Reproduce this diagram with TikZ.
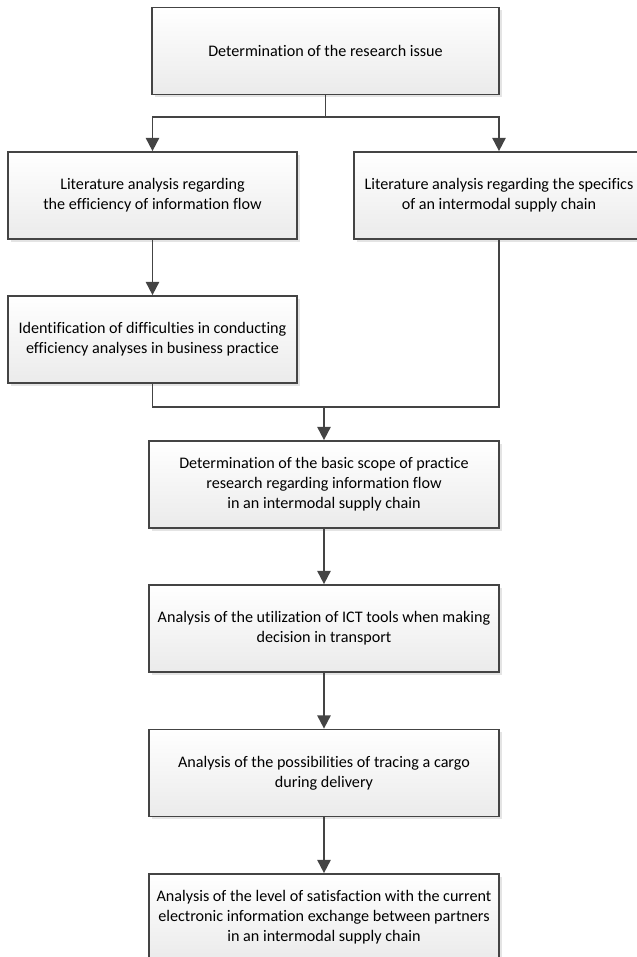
\documentclass[tikz,border=0pt]{standalone}
\usepackage{fontspec}
\setmainfont{Carlito}[Ligatures={NoCommon}]
\usetikzlibrary{arrows.meta,shadows}
\definecolor{linegray}{HTML}{444444}
\tikzset{
  stepbox/.style={draw=linegray, line width=1.3pt, top color=white, bottom color=black!8,
    drop shadow={shadow xshift=2pt, shadow yshift=-2pt, fill=black!15, opacity=0.7},
    minimum height=65.25pt, align=center, font=\fontsize{12.1}{15}\selectfont, inner sep=2pt},
  flowline/.style={draw=linegray, line width=1.4pt},
  flowarrow/.style={flowline, -{Triangle[length=10pt,width=10pt]}}
}

\begin{document}
\begin{tikzpicture}[x=0.75pt, y=-0.75pt]
		%%%%% START %%%%%
		\useasboundingbox (0, 0) rectangle (636, 957);
		
		\node[stepbox, minimum width=260pt] (issue) at (325.5, 51) {Determination of the research issue};
		
		\node[stepbox, minimum width=216.75pt] (litflow) at (152.5, 195.5) {Literature analysis regarding\\the efficiency of information flow};
		\node[stepbox, minimum width=217.5pt] (litchain) at (499, 195.5) {Literature analysis regarding the specifics\\of an intermodal supply chain};
		\node[stepbox, minimum width=216.75pt] (difficult) at (152.5, 339.5) {Identification of difficulties in conducting\\efficiency analyses in business practice};
		
		\node[stepbox, minimum width=262.5pt] (scope) at (324, 484.5) {Determination of the basic scope of practice\\research regarding information flow\\in an intermodal supply chain};
		\node[stepbox, minimum width=262.5pt] (ict) at (324, 628.5) {Analysis of the utilization of ICT tools when making\\decision in transport};
		\node[stepbox, minimum width=262.5pt] (cargo) at (324, 773) {Analysis of the possibilities of tracing a cargo\\during delivery};
		\node[stepbox, minimum width=262.5pt] (satisf) at (324, 917.5) {Analysis of the level of satisfaction with the current\\electronic information exchange between partners\\in an intermodal supply chain};
		
		\coordinate (split) at (325.5, 117);
		\coordinate (join) at (324, 407);
		
		\draw[flowline] (issue.south) -- (split);
		\draw[flowarrow] (split) -| (litflow.north);
		\draw[flowarrow] (split) -| (litchain.north);
		\draw[flowarrow] (litflow) -- (difficult);
		
		\draw[flowline] (difficult.south) |- (join);
		\draw[flowline] (litchain.south) |- (join);
		\draw[flowarrow] (join) -- (scope.north);
		
		\draw[flowarrow] (scope) -- (ict);
		\draw[flowarrow] (ict) -- (cargo);
		\draw[flowarrow] (cargo) -- (satisf);
		%%%%% END %%%%%
\end{tikzpicture}
\end{document}
